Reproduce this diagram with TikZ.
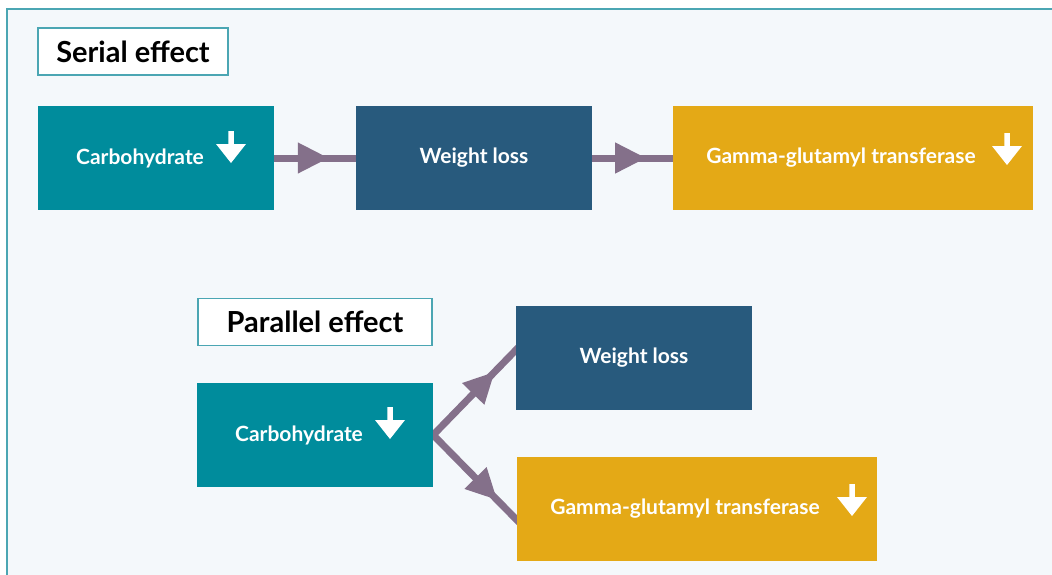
\documentclass[tikz,border=0pt]{standalone}
\usepackage{fontspec}
\setmainfont{Lato}
\usetikzlibrary{arrows.meta,decorations.markings,calc,backgrounds}
\definecolor{bgc}{HTML}{F4F8FB}
\definecolor{framec}{HTML}{4BA6B3}
\definecolor{tealc}{HTML}{008C9C}
\definecolor{navyc}{HTML}{285A7D}
\definecolor{goldc}{HTML}{E4A916}
\definecolor{arrowc}{HTML}{84708A}
\begin{document}
\begin{tikzpicture}[x=1pt,y=-1pt,
  box/.style={minimum width=#1, minimum height=104pt, inner sep=0pt, draw=none},
  tealbox/.style={box=236pt, fill=tealc},
  navybox/.style={box=236pt, fill=navyc},
  goldbox/.style={box=360pt, fill=goldc},
  lbl/.style={text=white, font=\bfseries\fontsize{21}{24}\selectfont, inner sep=0pt},
  title/.style={draw=framec, line width=1.2pt, fill=white, inner sep=0pt, minimum height=47pt, font=\bfseries\fontsize{29}{32}\selectfont},
  conn/.style={draw=arrowc, line width=7pt, postaction={decorate},
    decoration={markings, mark=at position #1 with {\arrow[arrowc]{Triangle[length=31pt 0,width=29pt 0]}}}},
  darr/.pic={\fill[white] (-2.75,-16)--(2.75,-16)--(2.75,-3)--(15,-3)--(0,16)--(-15,-3)--(-2.75,-3)--cycle;}
]
\useasboundingbox (0,0) rectangle (1052,574);

% Serial effect
\node[title, minimum width=190pt] (st) at (133,51.5) {Serial effect};
\node[tealbox] (c1) at (156,158) {};
\node[navybox] (w1) at (474,158) {};
\node[goldbox] (g1) at (853,158) {};
\node[lbl] (c1t) at (140,158) {Carbohydrate};
\node[lbl] (w1t) at (474,158) {Weight loss};
\node[lbl] (g1t) at (841,158) {Gamma-glutamyl transferase};
\pic at (231,147) {darr};
\pic at (1007,149) {darr};

% Parallel effect
\node[title, minimum width=234pt] (pt) at (315,322) {Parallel effect};
\node[tealbox] (c2) at (315,435) {};
\node[navybox] (w2) at (634,358) {};
\node[goldbox] (g2) at (697,509) {};
\node[lbl] (c2t) at (299,435) {Carbohydrate};
\node[lbl] (w2t) at (634,358) {Weight loss};
\node[lbl] (g2t) at (685,509) {Gamma-glutamyl transferase};
\pic at (390,423) {darr};
\pic at (852,500) {darr};

\begin{scope}[on background layer]
\fill[white] (0,0) rectangle (1052,574);
\draw[framec, line width=1.5pt, fill=bgc] (7,9) rectangle (1070,600);
\draw[conn=0.67] (c1.east) -- (w1.west);
\draw[conn=0.67] (w1.east) -- (g1.west);
\draw[conn=0.72] (c2.east) -- ($(w2.west)+(3,-11)$);
\draw[conn=0.74] (c2.east) -- ($(g2.west)+(3,14)$);
\end{scope}
\end{tikzpicture}
\end{document}
